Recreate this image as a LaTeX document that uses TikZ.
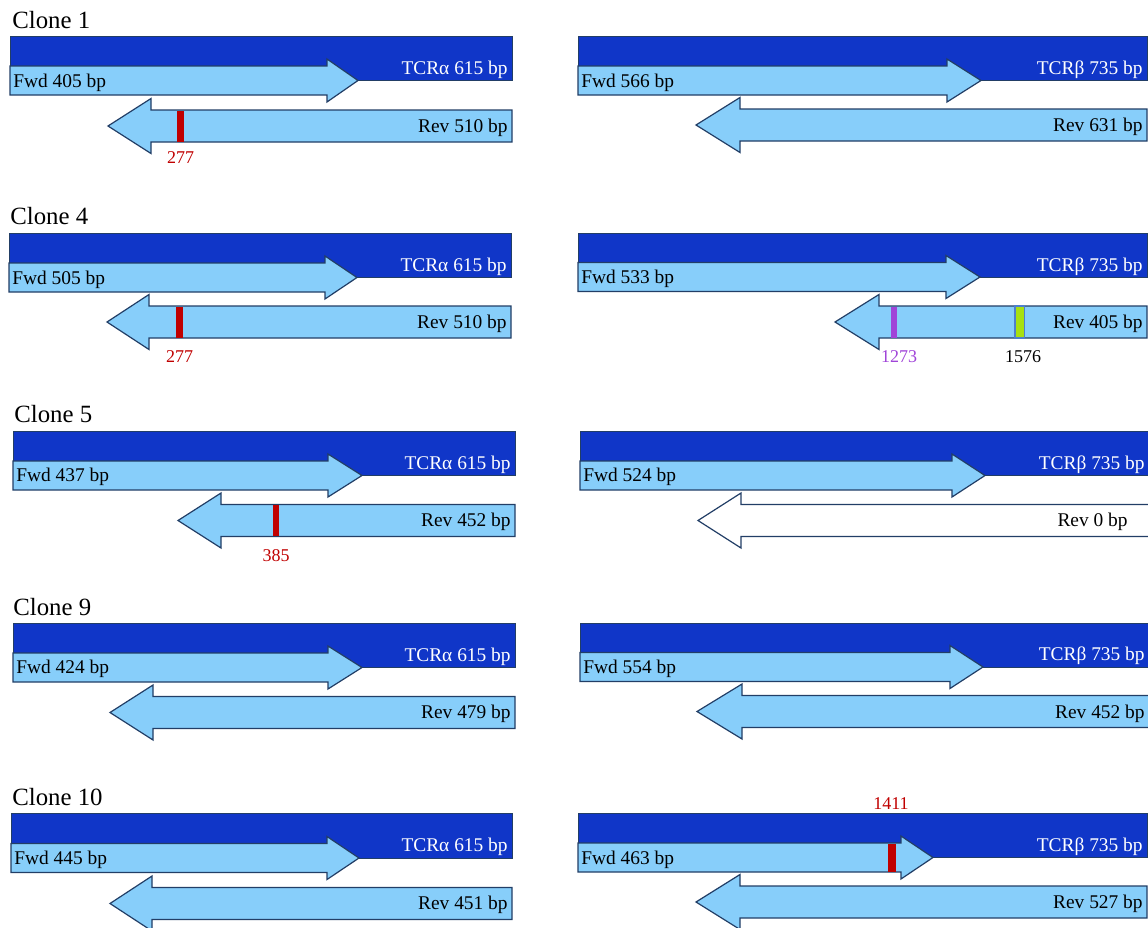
\documentclass[tikz,border=0pt]{standalone}
\usepackage{fontspec}
\setmainfont{Liberation Serif}
\usepackage{tikz}
\definecolor{barBlue}{HTML}{1036C8}
\definecolor{readBlue}{HTML}{87CEFA}
\definecolor{edgeNavy}{HTML}{223E66}
\definecolor{mutRed}{HTML}{C00000}
\definecolor{mutPurple}{HTML}{A044D8}
\definecolor{mutGreen}{HTML}{A8E010}
\definecolor{mutEdge}{HTML}{4E7FCC}

\tikzset{
  tcrbar/.style={fill=barBlue, draw=edgeNavy, line width=0.5pt},
  readshape/.style={fill=readBlue, draw=edgeNavy, line width=0.6pt, line join=miter},
  emptyread/.style={fill=white, draw=edgeNavy, line width=0.6pt, line join=miter},
  clonetitle/.style={font=\fontsize{12.4}{14}\selectfont, inner sep=0pt, anchor=west},
  readlbl/.style={font=\fontsize{9.7}{11}\selectfont, inner sep=0pt, yshift=-0.6pt},
  tcrlbl/.style={readlbl, text=white, anchor=east, yshift=-0.5pt},
  poslbl/.style={font=\fontsize{9}{10}\selectfont, inner sep=0pt},
}

% #1 left x, #2 mid y, #3 head base x, #4 tip x
\newcommand{\fwdread}[5][readshape]{%
  \draw[#1] (#2,#3-14.5) -- (#4,#3-14.5) -- (#4,#3-21.5) -- (#5,#3)
    -- (#4,#3+21.5) -- (#4,#3+14.5) -- (#2,#3+14.5) -- cycle;}
% #1 right x, #2 mid y, #3 head base x, #4 tip x
\newcommand{\revread}[5][readshape]{%
  \draw[#1] (#2,#3-16) -- (#4,#3-16) -- (#4,#3-27.5) -- (#5,#3)
    -- (#4,#3+27.5) -- (#4,#3+16) -- (#2,#3+16) -- cycle;}

\begin{document}
\begin{tikzpicture}[x=0.5pt, y=-0.5pt]
  \useasboundingbox (0,0) rectangle (1148,928);

  % Clone 1
  \node[clonetitle] (t1) at (12,20) {Clone 1};
  \draw[tcrbar] (10,36) rectangle (512,80.5);
  \fwdread{10}{80.5}{327}{358}
  \revread{512}{126}{151}{108}
  \fill[mutRed] (177,110.5) rectangle (184,141.5);
  \node[tcrlbl] (a1) at (508,68) {TCRα 615 bp};
  \node[readlbl, anchor=west] (af1) at (13,82) {Fwd 405 bp};
  \node[readlbl, anchor=east] (ar1) at (508,127) {Rev 510 bp};
  \node[poslbl, text=mutRed] (p1) at (180.5,158) {277};

  \draw[tcrbar] (578,36) rectangle (1147,80.5);
  \fwdread{578}{80.5}{947}{981}
  \revread{1147}{125}{740}{696}
  \node[tcrlbl] (b1) at (1143,68) {TCRβ 735 bp};
  \node[readlbl, anchor=west] (bf1) at (581,82) {Fwd 566 bp};
  \node[readlbl, anchor=east] (br1) at (1143,126) {Rev 631 bp};

  % Clone 4
  \node[clonetitle] (t4) at (10,216) {Clone 4};
  \draw[tcrbar] (9,233) rectangle (511,277.5);
  \fwdread{9}{277.5}{325}{357}
  \revread{511}{322}{149}{107}
  \fill[mutRed] (176,306.5) rectangle (183,337.5);
  \node[tcrlbl] (a4) at (507,265) {TCRα 615 bp};
  \node[readlbl, anchor=west] (af4) at (12,279) {Fwd 505 bp};
  \node[readlbl, anchor=east] (ar4) at (507,323) {Rev 510 bp};
  \node[poslbl, text=mutRed] (p4) at (179.5,357) {277};

  \draw[tcrbar] (578,233) rectangle (1147,277);
  \fwdread{578}{277}{946}{980}
  \revread{1147}{322}{879}{835}
  \fill[mutPurple] (891,306.5) rectangle (897,337.5);
  \draw[fill=mutGreen, draw=mutEdge, line width=0.6pt] (1015,306) rectangle (1024.5,338);
  \node[tcrlbl] (b4) at (1143,265) {TCRβ 735 bp};
  \node[readlbl, anchor=west] (bf4) at (581,278) {Fwd 533 bp};
  \node[readlbl, anchor=east] (br4) at (1143,323) {Rev 405 bp};
  \node[poslbl, text=mutPurple] (q4) at (899,357) {1273};
  \node[poslbl] (g4) at (1023,357) {1576};

  % Clone 5
  \node[clonetitle] (t5) at (14,414) {Clone 5};
  \draw[tcrbar] (13,431) rectangle (515,475.5);
  \fwdread{13}{475.5}{328}{362}
  \revread{515}{520.5}{221}{178}
  \fill[mutRed] (273,505) rectangle (279,536);
  \node[tcrlbl] (a5) at (511,463) {TCRα 615 bp};
  \node[readlbl, anchor=west] (af5) at (16,476) {Fwd 437 bp};
  \node[readlbl, anchor=east] (ar5) at (511,521) {Rev 452 bp};
  \node[poslbl, text=mutRed] (p5) at (276,556) {385};

  \draw[tcrbar] (580,431) rectangle (1149,475.5);
  \fwdread{580}{475.5}{952}{985}
  \revread[emptyread]{1149}{520.5}{741}{698}
  \node[tcrlbl] (b5) at (1145,463) {TCRβ 735 bp};
  \node[readlbl, anchor=west] (bf5) at (583,476) {Fwd 524 bp};
  \node[readlbl, anchor=east] (br5) at (1128,521) {Rev 0 bp};

  % Clone 9
  \node[clonetitle] (t9) at (13,607) {Clone 9};
  \draw[tcrbar] (13,623) rectangle (515,667.5);
  \fwdread{13}{667.5}{328}{362}
  \revread{515}{712.5}{153}{110}
  \node[tcrlbl] (a9) at (511,655) {TCRα 615 bp};
  \node[readlbl, anchor=west] (af9) at (16,668) {Fwd 424 bp};
  \node[readlbl, anchor=east] (ar9) at (511,713) {Rev 479 bp};

  \draw[tcrbar] (580,623) rectangle (1149,667);
  \fwdread{580}{667}{950}{983}
  \revread{1149}{711.5}{742}{697}
  \node[tcrlbl] (b9) at (1145,654) {TCRβ 735 bp};
  \node[readlbl, anchor=west] (bf9) at (583,668) {Fwd 554 bp};
  \node[readlbl, anchor=east] (br9) at (1145,713) {Rev 452 bp};

  % Clone 10
  \node[clonetitle] (t10) at (12,797) {Clone 10};
  \draw[tcrbar] (11,813) rectangle (512,858);
  \fwdread{11}{858}{327}{359}
  \revread{512}{903.5}{152}{110}
  \node[tcrlbl] (a10) at (508,845) {TCRα 615 bp};
  \node[readlbl, anchor=west] (af10) at (14,859) {Fwd 445 bp};
  \node[readlbl, anchor=east] (ar10) at (508,904) {Rev 451 bp};

  \draw[tcrbar] (578,813) rectangle (1147,857.5);
  \fwdread{578}{857.5}{901}{933}
  \revread{1147}{902}{740}{696}
  \fill[mutRed] (888,843.5) rectangle (896,871.5);
  \node[tcrlbl] (b10) at (1143,845) {TCRβ 735 bp};
  \node[readlbl, anchor=west] (bf10) at (581,859) {Fwd 463 bp};
  \node[readlbl, anchor=east] (br10) at (1143,903) {Rev 527 bp};
  \node[poslbl, text=mutRed] (p10) at (891,804) {1411};
\end{tikzpicture}
\end{document}
